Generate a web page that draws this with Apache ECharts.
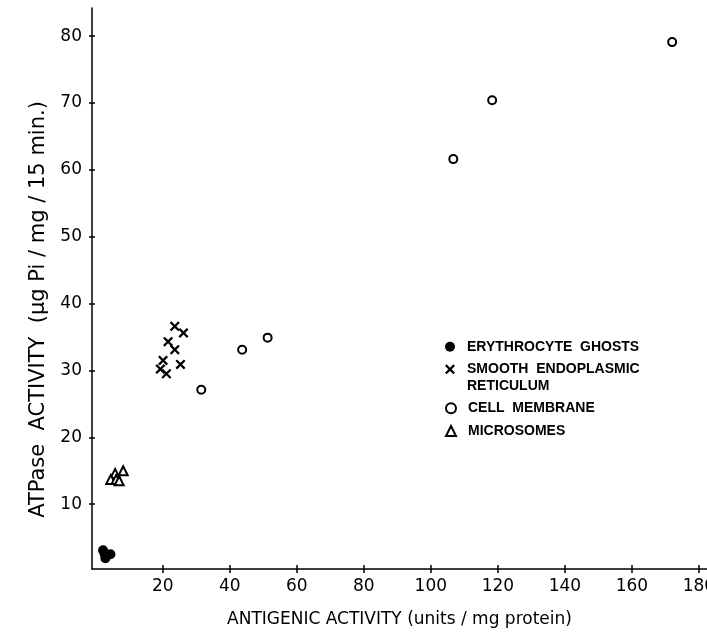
<!DOCTYPE html>
<html>
<head>
<meta charset="utf-8">
<script src="https://cdn.jsdelivr.net/npm/echarts@6/dist/echarts.min.js"></script>
<style>
  html, body { margin: 0; padding: 0; background: #fff; }
  #main { width: 707px; height: 636px; }
</style>
</head>
<body>
<div id="main"></div>
<script>
// values
var ghostsX = [2.2, 4.4, 2.9, 2.7],
    ghostsY = [3.1, 2.5, 1.9, 2.5];
var serX = [23.6, 26.2, 21.6, 23.6, 20.1, 25.3, 19.3, 21.1],
    serY = [36.6, 35.6, 34.3, 33.1, 31.5, 30.9, 30.2, 29.5];
var membX = [31.5, 43.7, 51.3, 106.7, 118.3, 172.0],
    membY = [27.1, 33.1, 34.9, 61.6, 70.4, 79.1];
var microX = [8.2, 5.8, 4.5, 6.1, 7.0],
    microY = [15.0, 14.6, 13.7, 13.7, 13.5];
var xTicks = [20, 40, 60, 80, 100, 120, 140, 160, 180],
    yTicks = [10, 20, 30, 40, 50, 60, 70, 80];
var names = ['ERYTHROCYTE  GHOSTS', 'SMOOTH  ENDOPLASMIC', 'CELL  MEMBRANE', 'MICROSOMES'];

function pairs(xs, ys){
    var out = [];
    for (var i = 0; i < xs.length; i++) out.push([xs[i], ys[i]]);
    return out;
}

var cross = 'path://M1.6,0 L5,3.4 L8.4,0 L10,1.6 L6.6,5 L10,8.4 L8.4,10 L5,6.6 L1.6,10 L0,8.4 L3.4,5 L0,1.6 Z';
var font = 'DejaVu Sans';
var black = { color: '#000', width: 1.5 };
var legendText = { fontFamily: 'Liberation Sans', fontWeight: 'bold', fontSize: 14, color: '#000', lineHeight: 16, padding: [0, 0, 0, 7] };
var xMin = -1.1, xMax = 182.4, yMin = 0.3, yMax = 84.2;

var myChart = echarts.init(document.getElementById('main'));
var option = {
    animation: false,
    backgroundColor: '#fff',
    grid: { left: 92, right: 0, top: 8, bottom: 67, containLabel: false, outerBoundsMode: 'none' },
    legend: [
        { data: [names[0], names[1]], orient: 'vertical', left: 445, top: 338.7, itemGap: 6.6, padding: 0,
          itemWidth: 10, itemHeight: 10, textStyle: legendText, selectedMode: false },
        { data: [names[2], names[3]], orient: 'vertical', left: 445, top: 400.3, itemGap: 6.7, padding: 0,
          itemWidth: 10, itemHeight: 10, textStyle: legendText, selectedMode: false }
    ],
    graphic: [{
        type: 'text', left: 467, top: 379,
        style: { text: 'RETICULUM', font: 'bold 14px "Liberation Sans"', fill: '#000' }
    }],
    xAxis: [{
        type: 'value', min: xMin, max: xMax,
        name: 'ANTIGENIC ACTIVITY (units / mg protein)', nameLocation: 'middle', nameGap: 42,
        nameTextStyle: { fontFamily: font, fontSize: 17, color: '#000' },
        splitLine: { show: false },
        axisLine: { show: true, onZero: false, lineStyle: black },
        axisTick: { show: true, length: 4, customValues: xTicks, lineStyle: black },
        axisLabel: { customValues: xTicks, margin: 9, fontFamily: font, fontSize: 17, color: '#000' }
    }, {
        type: 'value', min: xMin, max: xMax, position: 'bottom',
        splitLine: { show: false }, axisLabel: { show: false },
        axisLine: { show: true, onZero: false, lineStyle: { color: 'rgba(0,0,0,0)' } },
        axisTick: { show: true, inside: true, length: 4, customValues: xTicks, lineStyle: black }
    }],
    yAxis: [{
        type: 'value', min: yMin, max: yMax,
        name: 'ATPase  ACTIVITY  (\u03bcg Pi / mg / 15 min.)', nameLocation: 'middle', nameGap: 43,
        nameTextStyle: { fontFamily: font, fontSize: 21, color: '#000', padding: [0, 42, 0, 0] },
        splitLine: { show: false },
        axisLine: { show: true, onZero: false, lineStyle: black },
        axisTick: { show: true, length: 3, customValues: yTicks, lineStyle: black },
        axisLabel: { customValues: yTicks, margin: 10, fontFamily: font, fontSize: 17, color: '#000' }
    }, {
        type: 'value', min: yMin, max: yMax, position: 'left',
        splitLine: { show: false }, axisLabel: { show: false },
        axisLine: { show: true, onZero: false, lineStyle: { color: 'rgba(0,0,0,0)' } },
        axisTick: { show: true, inside: true, length: 3, customValues: yTicks, lineStyle: black }
    }],
    series: [{
        name: names[0], type: 'scatter', data: pairs(ghostsX, ghostsY),
        symbol: 'circle', symbolSize: 10, itemStyle: { color: '#000', opacity: 1 }
    }, {
        name: names[1], type: 'scatter', data: pairs(serX, serY),
        symbol: cross, symbolSize: 10, itemStyle: { color: '#000', opacity: 1 }
    }, {
        name: names[2], type: 'scatter', data: pairs(membX, membY), xAxisIndex: 1, yAxisIndex: 1,
        symbol: 'emptyCircle', symbolSize: 8, itemStyle: { color: '#000', borderColor: '#000', borderWidth: 2.5, opacity: 1 }
    }, {
        name: names[3], type: 'scatter', data: pairs(microX, microY),
        symbol: 'emptyTriangle', symbolSize: 9, itemStyle: { color: '#000', borderColor: '#000', borderWidth: 2, opacity: 1 }
    }]
};

myChart.setOption(option);
</script>
</body>
</html>
